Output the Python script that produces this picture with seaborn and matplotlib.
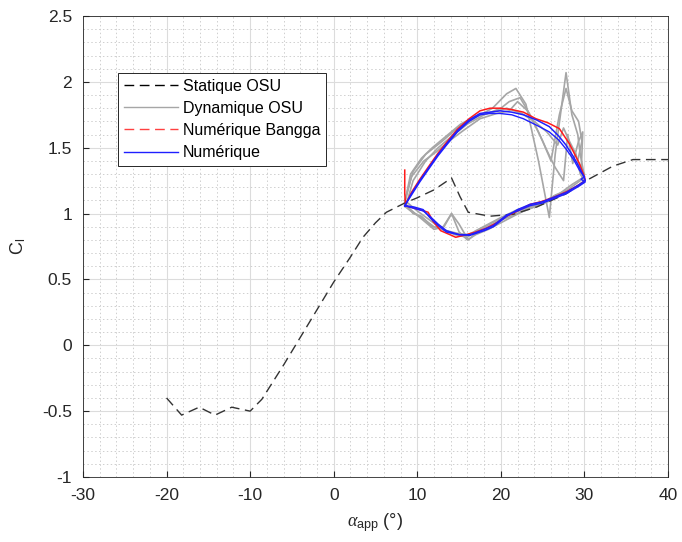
import numpy as np
import pandas as pd
import seaborn as sns
import matplotlib
matplotlib.use("Agg")
import matplotlib.pyplot as plt
from matplotlib.lines import Line2D
from matplotlib.ticker import MultipleLocator

# courbe statique OSU
alpha_stat = [-20, -18.2, -16.1, -14.2, -12.2, -10, -8.6, -6, -4, -2, 0, 2, 3.5, 5, 6.3, 8.5,
              10, 12, 14.1, 15.1, 16.1, 18.7, 21.5, 24.3, 27.8, 30.2, 33.4, 35.8, 40]
cl_stat = [-0.40, -0.53, -0.47, -0.53, -0.47, -0.50, -0.41, -0.15, 0.06, 0.27, 0.48, 0.67, 0.82, 0.93, 1.01, 1.08,
           1.12, 1.18, 1.27, 1.13, 1.01, 0.98, 0.995, 1.05, 1.15, 1.25, 1.36, 1.41, 1.41]

# cycles dynamiques OSU (experimental)
osu_a_x = [8.5, 9.2, 10.5, 11.8, 13.5, 15.2, 17, 19, 20.7, 22.5, 24, 25.5, 26.8, 27.5, 28.2, 29, 29.5, 30,
           29, 27.5, 26, 24.5, 23, 21.5, 20, 18.5, 17, 16, 15, 14.1, 13.2, 12, 10.5, 9.2, 8.5]
osu_a_y = [1.08, 1.30, 1.42, 1.50, 1.59, 1.68, 1.74, 1.77, 1.80, 1.76, 1.70, 1.62, 1.52, 1.65, 1.55, 1.45, 1.30, 1.25,
           1.20, 1.15, 1.10, 1.06, 1.03, 0.98, 0.93, 0.88, 0.84, 0.80, 0.86, 1.00, 0.90, 0.88, 0.96, 1.03, 1.08]
osu_b_x = [8.5, 9.5, 11, 13, 15, 17, 19, 20.7, 21.8, 23, 24.5, 25.8, 26.5, 27.8, 28.5, 29.2, 29.5, 30,
           28.5, 27, 25.5, 24, 22, 20, 18.5, 17, 16, 14.5, 13, 11.5, 10, 8.5]
osu_b_y = [1.10, 1.32, 1.45, 1.55, 1.66, 1.73, 1.80, 1.91, 1.95, 1.83, 1.40, 0.97, 1.45, 2.07, 1.75, 1.60, 1.45, 1.28,
           1.22, 1.15, 1.10, 1.07, 1.03, 0.97, 0.92, 0.87, 0.82, 0.84, 0.88, 0.95, 1.02, 1.10]
osu_c_x = [8.6, 9.5, 11, 12.5, 14, 16, 18, 20, 21, 22.3, 23.5, 25, 26, 27, 27.8, 28.5, 29.3, 29.7, 29.2, 30, 29.5,
           28, 26.5, 25, 23, 21, 19, 17.5, 16, 14.8, 13.5, 12, 10.5, 9.2, 8.6]
osu_c_y = [1.05, 1.25, 1.40, 1.50, 1.58, 1.68, 1.75, 1.80, 1.85, 1.88, 1.75, 1.55, 1.40, 1.75, 1.95, 1.78, 1.70, 1.55, 1.40, 1.30, 1.25,
           1.18, 1.14, 1.08, 1.04, 0.99, 0.93, 0.88, 0.84, 0.85, 0.87, 0.90, 0.97, 1.02, 1.05]
osu_d_x = [8.5, 9.3, 10.8, 12.3, 13.8, 15.5, 17.5, 19.5, 21, 22, 23.2, 24.5, 25.5, 26.5, 27.5, 28, 28.6, 29.3, 29.8, 29.6, 30,
           29, 27.5, 26, 24, 22, 20, 18.5, 17, 16.1, 15, 14.1, 13, 11.8, 10.5, 9.5, 8.5]
osu_d_y = [1.08, 1.28, 1.40, 1.47, 1.55, 1.63, 1.72, 1.76, 1.78, 1.85, 1.78, 1.62, 1.48, 1.35, 1.25, 1.60, 1.38, 1.55, 1.62, 1.30, 1.25,
           1.20, 1.16, 1.12, 1.05, 1.00, 0.95, 0.90, 0.85, 0.80, 0.92, 1.00, 0.89, 0.90, 0.98, 1.00, 1.08]

# numerique Bangga
bangga_x = [8.5, 8.5, 8.6, 9.3, 10.3, 11.5, 12.5, 13.5, 14.8, 16.2, 17.5, 18.7, 19.9, 21.3, 22.7, 24.2, 25.6, 27.0, 28.2, 29.4, 30.0, 30.1,
            29.4, 28.0, 26.2, 24.8, 23.5, 22.0, 20.7, 19.5, 18.3, 17.0, 15.9, 14.6, 13.9, 12.8, 11.9, 11.3, 10.3, 9.1, 8.5]
bangga_y = [1.33, 1.15, 1.07, 1.16, 1.26, 1.37, 1.46, 1.54, 1.64, 1.72, 1.78, 1.80, 1.80, 1.79, 1.77, 1.72, 1.69, 1.645, 1.53, 1.38, 1.28, 1.25,
            1.22, 1.17, 1.12, 1.09, 1.07, 1.02, 0.98, 0.93, 0.89, 0.86, 0.84, 0.82, 0.84, 0.87, 0.94, 1.01, 1.03, 1.05, 1.06]

# numerique (present modele), deux cycles
num1_x = [8.5, 9.3, 10.3, 11.5, 12.5, 13.5, 14.8, 16.2, 17.5, 18.7, 19.9, 21.3, 22.7, 24.3, 25.8, 26.9, 27.8, 28.7, 29.4, 30.0, 30.1,
          29.4, 27.8, 26.2, 25.0, 23.5, 22.0, 20.7, 19.1, 18.0, 16.3, 15.0, 13.5, 12.5, 11.5, 10.7, 9.6, 8.5]
num1_y = [1.06, 1.15, 1.25, 1.36, 1.45, 1.53, 1.63, 1.71, 1.76, 1.77, 1.78, 1.77, 1.75, 1.71, 1.66, 1.59, 1.52, 1.43, 1.35, 1.27, 1.25,
          1.22, 1.16, 1.12, 1.09, 1.07, 1.03, 0.98, 0.90, 0.87, 0.835, 0.84, 0.86, 0.91, 0.97, 1.03, 1.05, 1.06]
num2_x = [8.5, 9.3, 10.3, 11.5, 12.5, 13.5, 14.8, 16.2, 17.5, 18.7, 19.9, 21.3, 22.7, 24.3, 25.8, 26.9, 27.8, 28.7, 29.4, 30.0, 29.6, 30.1,
          29.4, 27.8, 26.2, 25.0, 23.5, 22.0, 20.7, 19.1, 18.0, 16.3, 15.0, 13.5, 12.5, 11.5, 10.7, 9.6, 8.5]
num2_y = [1.06, 1.14, 1.24, 1.35, 1.44, 1.52, 1.62, 1.70, 1.75, 1.76, 1.76, 1.75, 1.72, 1.67, 1.62, 1.56, 1.49, 1.41, 1.33, 1.28, 1.26, 1.24,
          1.21, 1.15, 1.11, 1.08, 1.06, 1.02, 0.99, 0.91, 0.88, 0.84, 0.84, 0.87, 0.92, 0.98, 1.02, 1.04, 1.06]

plt.rcParams['font.family'] = ['Liberation Sans', 'DejaVu Sans']
plt.rcParams['axes.unicode_minus'] = False
plt.rcParams['mathtext.fontset'] = 'custom'
plt.rcParams['mathtext.rm'] = 'Liberation Sans'
plt.rcParams['mathtext.it'] = 'Liberation Serif:italic'

fig = plt.figure(figsize=(6.82, 5.42), dpi=100)
ax = fig.add_axes([83 / 682, 1 - 477 / 542, 585 / 682, 461 / 542])

gray = '#a6a6a6'
for gx, gy in [(osu_a_x, osu_a_y), (osu_b_x, osu_b_y), (osu_c_x, osu_c_y), (osu_d_x, osu_d_y)]:
    sns.lineplot(x=gx, y=gy, sort=False, estimator=None, color=gray, lw=1.2, ax=ax)
sns.lineplot(x=alpha_stat, y=cl_stat, sort=False, estimator=None, color='#333333', lw=1.0,
             linestyle=(0, (7, 4)), ax=ax)
sns.lineplot(x=bangga_x, y=bangga_y, sort=False, estimator=None, color='#ff1a1a', lw=1.1, ax=ax)
sns.lineplot(x=num1_x, y=num1_y, sort=False, estimator=None, color='#1f1fff', lw=1.1, ax=ax)
sns.lineplot(x=num2_x, y=num2_y, sort=False, estimator=None, color='#1f1fff', lw=1.0, ax=ax)

ax.set_xlim(-30, 40)
ax.set_ylim(-1, 2.5)
ax.xaxis.set_minor_locator(MultipleLocator(2))
ax.yaxis.set_minor_locator(MultipleLocator(0.1))
ax.set_yticks(np.arange(-1, 2.51, 0.5))
ax.set_yticklabels(['-1', '-0.5', '0', '0.5', '1', '1.5', '2', '2.5'])
ax.set_xticks(np.arange(-30, 41, 10))
ax.set_xticklabels(['-30', '-20', '-10', '0', '10', '20', '30', '40'])

ax.grid(which='major', color='#dcdcdc', lw=0.8, ls='-')
ax.grid(which='minor', color='#cfcfcf', lw=0.7, ls=(0, (1.5, 2.5)))
ax.set_axisbelow(True)
for s in ax.spines.values():
    s.set_color('#262626')
    s.set_linewidth(0.6)
ax.tick_params(which='both', direction='in', labelsize=12.5, colors='#262626', top=False, right=False)
ax.tick_params(axis='y', which='major', length=4, pad=8)
ax.tick_params(axis='x', which='major', length=4, pad=8)
ax.tick_params(which='minor', length=0)

ax.set_xlabel(r'$\alpha_{\mathrm{app}}$ (°)', fontsize=13, color='#262626', labelpad=6)
ax.set_ylabel(r'C$_\mathrm{l}$', fontsize=13, color='#262626', labelpad=10)

handles = [Line2D([], [], color='black', lw=1, linestyle=(0, (7, 4))),
           Line2D([], [], color=gray, lw=1),
           Line2D([], [], color='#ff4040', lw=1, linestyle=(0, (7, 4))),
           Line2D([], [], color='#1f1fff', lw=1)]
labels = ['Statique OSU', 'Dynamique OSU', 'Numérique Bangga', 'Numérique']
leg = ax.legend(handles, labels, loc='upper left', bbox_to_anchor=((118 - 83) / 585, (477 - 73) / 461),
                borderaxespad=0, fontsize=11.5, handlelength=3.4, handletextpad=0.3, labelspacing=0.45,
                fancybox=False, framealpha=1, edgecolor='#262626', borderpad=0.35)
leg.get_frame().set_linewidth(0.7)

fig.savefig('out.png', dpi=100)
